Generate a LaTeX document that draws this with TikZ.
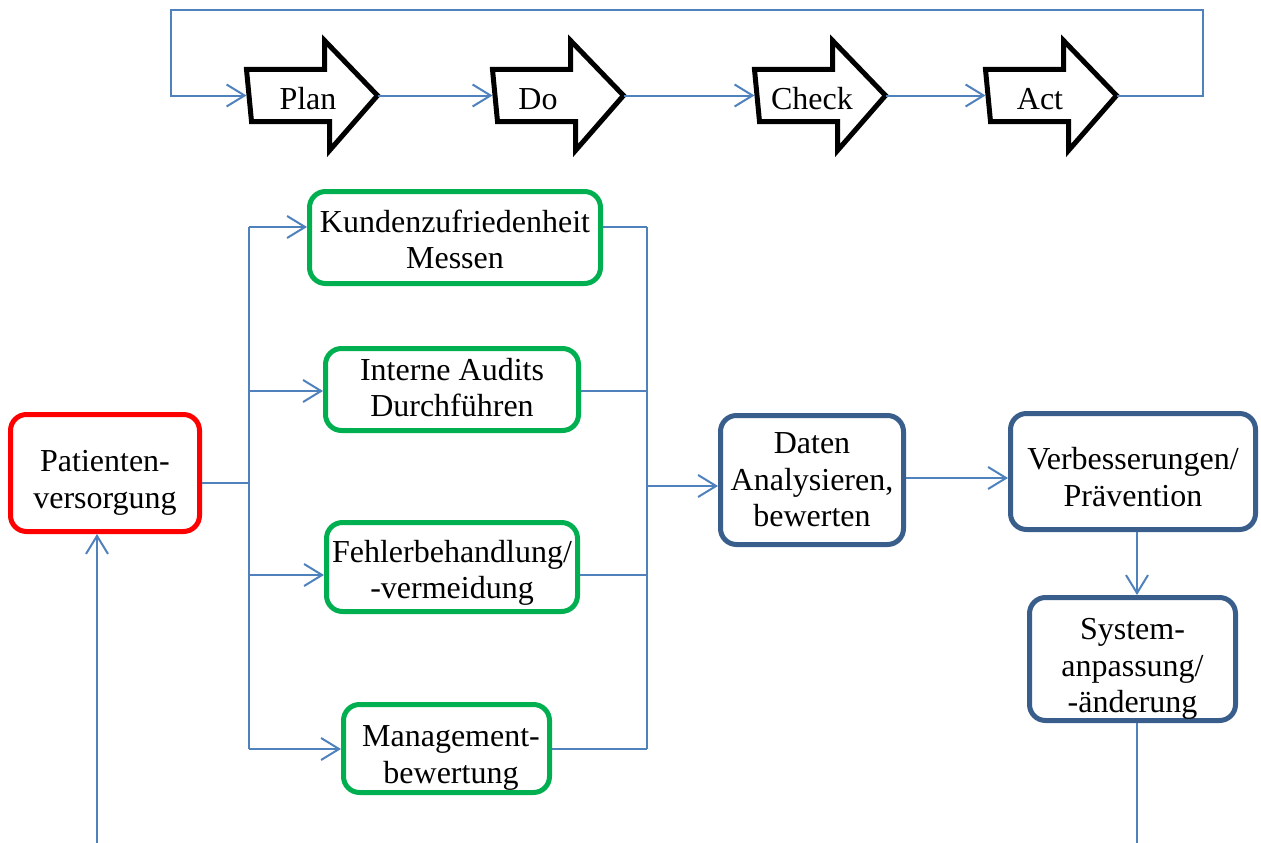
\documentclass[tikz,border=0pt]{standalone}
\usepackage{fontspec}
\setmainfont{Liberation Serif}
\usetikzlibrary{arrows.meta}
\definecolor{linkblue}{HTML}{4F81BD}
\definecolor{frameblue}{HTML}{3A5E8C}
\definecolor{okgreen}{HTML}{00B050}
\definecolor{alertred}{HTML}{FF0000}

\begin{document}
\begin{tikzpicture}[x=1pt,y=-1pt,
  txt/.style={font=\fontsize{32}{36.5}\selectfont, align=center, text=black, inner sep=0pt},
  card/.style={draw, line width=5pt, rounded corners=16pt, inner sep=0pt, fill=white},
  greencard/.style={card, draw=okgreen},
  bluecard/.style={card, draw=frameblue},
  redcard/.style={card, draw=alertred},
  link/.style={draw=linkblue, line width=2pt},
  flow/.style={link, -{Straight Barb[length=18pt,width=22pt,line width=2pt]}},
  stepbox/.style={minimum width=126pt, minimum height=110pt, inner sep=0pt, outer sep=2.5pt},
  stepshape/.style={draw=black, line width=5pt, miter limit=10}
]
\useasboundingbox (0,0) rectangle (1261,843);

% PDCA cycle: four block arrows
\node[stepbox] (plan)  at (249+63,95.5) {};
\node[stepbox] (do)    at (495+63,95.5) {};
\node[stepbox] (check) at (757+63,95.5) {};
\node[stepbox] (act)   at (988+63,95.5) {};
\foreach \s in {plan,do,check,act}
  \draw[stepshape] (\s.west) ++(0,-26) -- ++(78,0) -- ++(0,-29) -- (\s.east)
    -- ++(-48,55) -- ++(0,-29) -- ++(-78,0) -- cycle;
\node[txt, anchor=base] (plan-label)  at (308,109)  {Plan};
\node[txt, anchor=base] (do-label)    at (538,109)  {Do};
\node[txt, anchor=base] (check-label) at (812,109)  {Check};
\node[txt, anchor=base] (act-label)   at (1040,109) {Act};

\draw[flow] (plan.east) -- (do.west);
\draw[flow] (do.east) -- (check.west);
\draw[flow] (check.east) -- (act.west);
\coordinate (loop-r) at (1203,10);
\coordinate (loop-l) at (171,10);
\draw[flow] (act.east) -| (loop-r) -- (loop-l) |- (plan.west);

% process boxes
\node[redcard,   minimum width=189pt, minimum height=117pt] (patient) at (105,473) {};
\node[greencard, minimum width=291pt, minimum height=92pt]  (kunden)  at (455,237.5) {};
\node[greencard, minimum width=253pt, minimum height=82pt]  (audits)  at (452,389.5) {};
\node[greencard, minimum width=251pt, minimum height=89pt]  (fehler)  at (452,567) {};
\node[greencard, minimum width=206pt, minimum height=88pt]  (mgmt)    at (446.5,748.5) {};
\node[bluecard,  minimum width=183pt, minimum height=129pt] (daten)   at (812,480) {};
\node[bluecard,  minimum width=245pt, minimum height=116pt] (verb)    at (1133,471.5) {};
\node[bluecard,  minimum width=206pt, minimum height=123pt] (system)  at (1132.5,659) {};

% box texts
\node[txt] (patient-text) at (105,483)   {Patienten-\\versorgung};
\node[txt] (kunden-text)  at (455,239.5) {Kundenzufriedenheit\\Messen};
\node[txt] (audits-text)  at (452,387.5) {Interne Audits\\Durchführen};
\node[txt] (fehler-text)  at (452,573)   {Fehlerbehandlung/\\-vermeidung};
\node[txt] (mgmt-text)    at (451,758)   {Management-\\bewertung};
\node[txt] (daten-text)   at (812,480)   {Daten\\Analysieren,\\bewerten};
\node[txt] (verb-text)    at (1133,477)  {Verbesserungen/\\Prävention};
\node[txt] (system-text)  at (1132.5,669) {System-\\anpassung/\\-änderung};

% distribution bus on the left
\coordinate (lb-k) at (249,227);
\coordinate (lb-a) at (249,391);
\coordinate (lb-p) at (249,483);
\coordinate (lb-f) at (249,575);
\coordinate (lb-m) at (249,749);
\draw[link] (lb-k) -- (lb-m);
\draw[link] (patient.east |- lb-p) -- (lb-p);
\draw[flow] (lb-k) -- (kunden.west |- lb-k);
\draw[flow] (lb-a) -- (audits.west |- lb-a);
\draw[flow] (lb-f) -- (fehler.west |- lb-f);
\draw[flow] (lb-m) -- (mgmt.west |- lb-m);

% collecting bus on the right
\coordinate (rb-k) at (647,227);
\coordinate (rb-a) at (647,391);
\coordinate (rb-d) at (647,486);
\coordinate (rb-f) at (647,575);
\coordinate (rb-m) at (647,749);
\draw[link] (rb-k) -- (rb-m);
\draw[link] (kunden.east |- rb-k) -- (rb-k);
\draw[link] (audits.east |- rb-a) -- (rb-a);
\draw[link] (fehler.east |- rb-f) -- (rb-f);
\draw[link] (mgmt.east |- rb-m) -- (rb-m);
\draw[flow] (rb-d) -- (daten.west |- rb-d);

% analysis chain
\coordinate (dv) at (960,478);
\draw[flow] (daten.east |- dv) -- (verb.west |- dv);
\coordinate (vs) at (1137,560);
\draw[flow] (verb.south -| vs) -- (system.north -| vs);
\coordinate (sys-out) at (1137,843);
\draw[link] (system.south -| sys-out) -- (sys-out);
\coordinate (pat-in) at (97,843);
\draw[flow] (pat-in) -- (patient.south -| pat-in);
\end{tikzpicture}
\end{document}
